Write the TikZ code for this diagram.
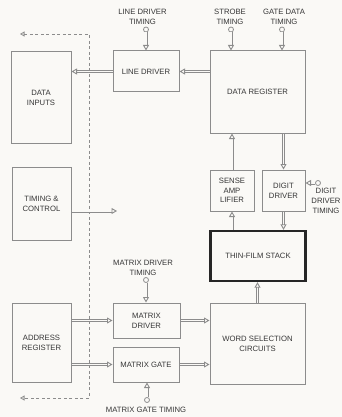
\documentclass[tikz,border=0pt]{standalone}
\usepackage{fontspec}
\setmainfont{Liberation Sans}
\usetikzlibrary{arrows.meta}
\definecolor{bg}{RGB}{250,249,246}
\definecolor{boxc}{RGB}{140,140,140}
\definecolor{txt}{RGB}{55,55,55}
\begin{document}
\begin{tikzpicture}[x=1pt,y=-1pt,
  font=\fontsize{7.7}{9.8}\selectfont, text=txt,
  blk/.style={draw=boxc, line width=1pt, inner sep=0pt, align=center},
  thick blk/.style={draw=black!85, line width=2.4pt, inner sep=0pt, align=center},
  flow/.style={draw=boxc, line width=0.9pt, double=bg, double distance=1.2pt,
    -{Triangle[open,length=5.5pt,width=6pt]}},
  tin/.style={circle, draw=boxc, line width=0.8pt, minimum size=5pt, inner sep=0pt, fill=bg},
  lbl/.style={align=center, inner sep=0pt},
  ctl/.style={draw=boxc, line width=0.8pt, dash pattern=on 3pt off 2.5pt,
    {Triangle[open,length=4.5pt,width=5pt]}-{Triangle[open,length=4.5pt,width=5pt]}}]
\fill[bg] (0,0) rectangle (342,417);
\useasboundingbox (0,0) rectangle (342,417);

% blocks
\node[blk, minimum width=60pt, minimum height=91pt] (din) at (41,97.5) {DATA\\INPUTS};
\node[blk, minimum width=66pt, minimum height=41pt] (ldrv) at (146,71.5) {LINE DRIVER};
\node[blk, minimum width=95pt, minimum height=82pt] (dreg) at (257.5,92) {DATA REGISTER};
\node[blk, minimum width=59pt, minimum height=73pt] (tc) at (41.5,204) {TIMING \&\\CONTROL};
\node[blk, minimum width=44pt, minimum height=41pt] (samp) at (232,190.5) {SENSE\\AMP\\LIFIER};
\node[blk, minimum width=43pt, minimum height=41pt] (ddrv) at (283.5,190.5) {DIGIT\\DRIVER};
\node[thick blk, minimum width=95pt, minimum height=50pt] (tfs) at (258,256) {THIN-FILM STACK};
\node[blk, minimum width=67pt, minimum height=35pt] (mdrv) at (146.5,320.5) {MATRIX\\DRIVER};
\node[blk, minimum width=66pt, minimum height=35pt] (mgate) at (146,364.5) {MATRIX GATE};
\node[blk, minimum width=59pt, minimum height=79pt] (areg) at (41.5,342.5) {ADDRESS\\REGISTER};
\node[blk, minimum width=95pt, minimum height=81pt] (wsel) at (257.5,343.5) {WORD SELECTION\\CIRCUITS};

% timing labels
\node[lbl] (lLD) at (142.5,17) {LINE DRIVER\\TIMING};
\node[lbl] (lST) at (230,17) {STROBE\\TIMING};
\node[lbl] (lGD) at (284,17) {GATE DATA\\TIMING};
\node[lbl] (lMD) at (143,267.5) {MATRIX DRIVER\\TIMING};
\node[lbl] (lMG) at (146,410) {MATRIX GATE TIMING};
\node[lbl] (lDD) at (326,201) {DIGIT\\DRIVER\\TIMING};

% free ends
\coordinate (tcend) at (117,211);
\coordinate (dTop) at (89,34);
\coordinate (dBot) at (89,398);
\coordinate (dTL) at (20,34);
\coordinate (dBL) at (20,398);

% control dashed line
\draw[ctl] (dTL) -- (dTop) -- (dBot) -- (dBL);

% data flows
\draw[flow] (ldrv.west) -- (ldrv.west -| din.east);
\draw[flow] (dreg.west |- ldrv.west) -- (ldrv.east);
\draw[flow] (tc.east |- tcend) -- (tcend);
\draw[flow] (samp.north) -- (samp.north |- dreg.south);
\draw[flow] (ddrv.north |- dreg.south) -- (ddrv.north);
\draw[flow] (samp.south |- tfs.north) -- (samp.south);
\draw[flow] (ddrv.south) -- (ddrv.south |- tfs.north);
\draw[flow] (wsel.north) -- (wsel.north |- tfs.south);
\draw[flow] (areg.east |- mdrv.west) -- (mdrv.west);
\draw[flow] (areg.east |- mgate.west) -- (mgate.west);
\draw[flow] (mdrv.east) -- (mdrv.east -| wsel.west);
\draw[flow] (mgate.east) -- (mgate.east -| wsel.west);

% timing input circles
\node[tin] (cLD) at (146,29.5) {};
\node[tin] (cST) at (231,29.5) {};
\node[tin] (cGD) at (282,29.5) {};
\node[tin] (cMD) at (146,280) {};
\node[tin] (cMG) at (147,400) {};
\node[tin] (cDD) at (318,183) {};

% timing flows
\draw[flow] (cLD) -- (cLD |- ldrv.north);
\draw[flow] (cST) -- (cST |- dreg.north);
\draw[flow] (cGD) -- (cGD |- dreg.north);
\draw[flow] (cMD) -- (cMD |- mdrv.north);
\draw[flow] (cMG) -- (cMG |- mgate.south);
\draw[flow] (cDD) -- (cDD -| ddrv.east);
\end{tikzpicture}
\end{document}
